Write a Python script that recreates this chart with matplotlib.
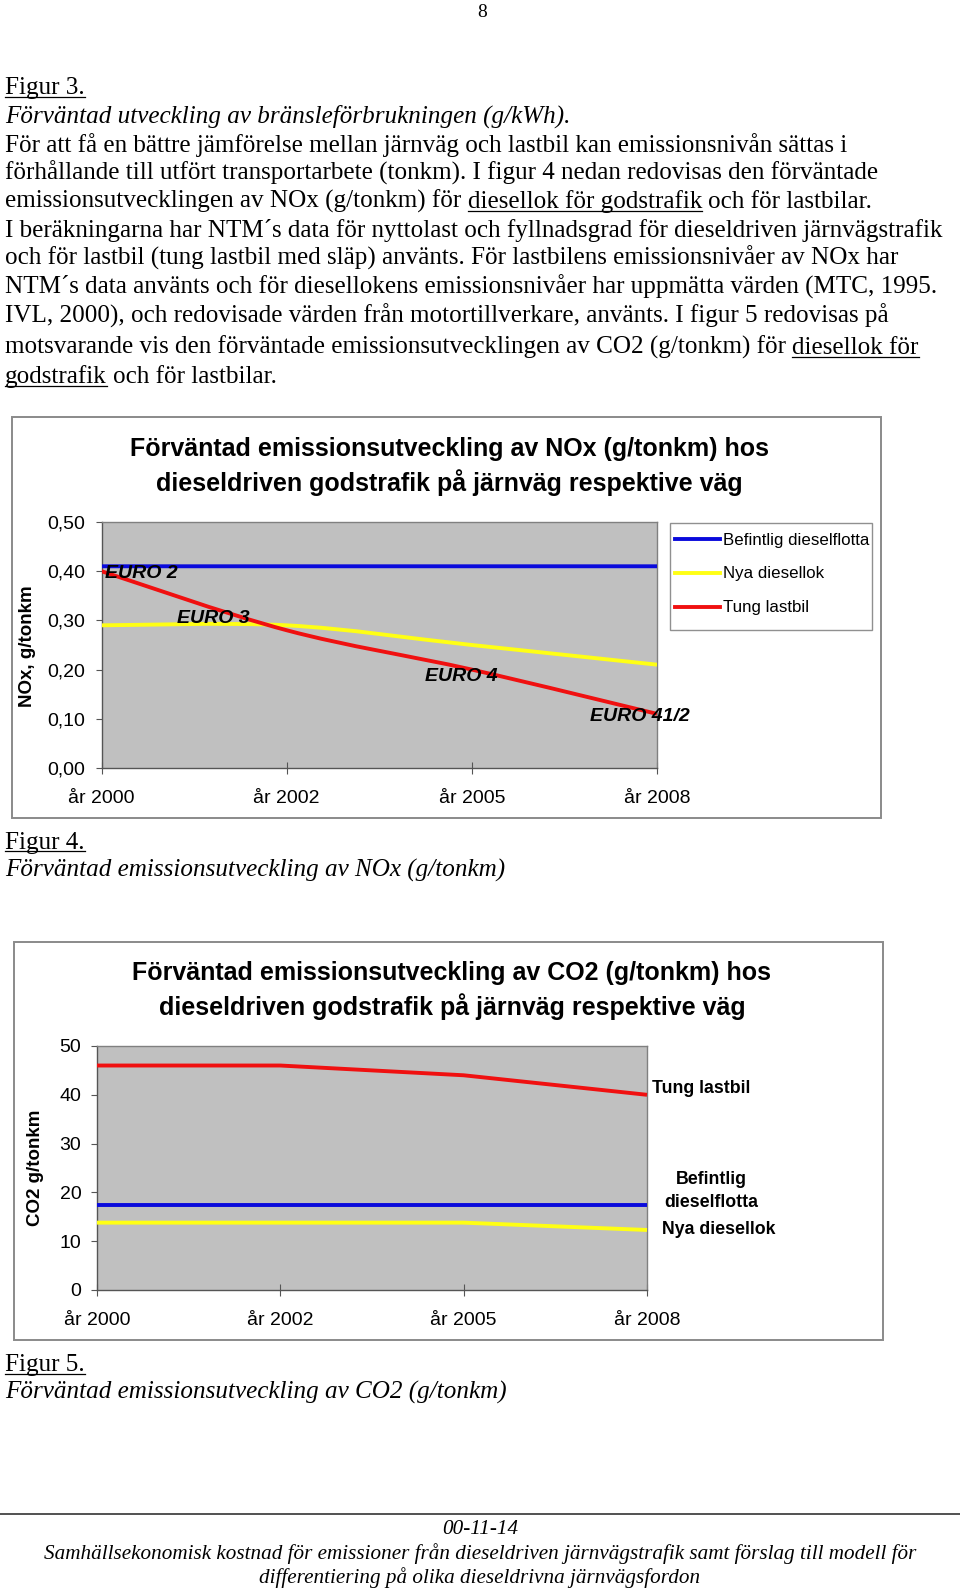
import matplotlib
matplotlib.use('Agg')
import matplotlib.pyplot as plt
from matplotlib.path import Path
from matplotlib.patches import PathPatch, Rectangle
from matplotlib.lines import Line2D

W, H, DPI = 960, 1589, 100

# ---------------- data ----------------
years = ['år 2000', 'år 2002', 'år 2005', 'år 2008']
series_names = ['Befintlig dieselflotta', 'Nya diesellok', 'Tung lastbil']

nox_befintlig = [0.41, 0.41, 0.41, 0.41]
nox_nya = [0.29, 0.29, 0.25, 0.21]
nox_tung = [0.40, 0.28, 0.20, 0.11]
nox_ticks = [0.0, 0.1, 0.2, 0.3, 0.4, 0.5]
nox_ticklabels = ['0,00', '0,10', '0,20', '0,30', '0,40', '0,50']
euro_labels = ['EURO 2', 'EURO 3', 'EURO 4', 'EURO 41/2']

co2_befintlig = [17.5, 17.5, 17.5, 17.5]
co2_nya = [13.8, 13.8, 13.8, 12.3]
co2_tung = [46, 46, 44, 40]
co2_ticks = [0, 10, 20, 30, 40, 50]
co2_ticklabels = ['0', '10', '20', '30', '40', '50']

colors = ['#0a0adc', '#ffff14', '#f01010']

SANS = 'Liberation Sans'
SERIF = 'Liberation Serif'

fig = plt.figure(figsize=(W / DPI, H / DPI), dpi=DPI)
fig.patch.set_facecolor('white')
renderer = fig.canvas.get_renderer()


def fx(px):
    return px / W


def fy(py):
    return 1 - py / H


def rect(l, t, r, b):
    return [fx(l), fy(b), (r - l) / W, (b - t) / H]


def smooth_path(xs, ys):
    n = len(xs)
    verts = [(xs[0], ys[0])]
    codes = [Path.MOVETO]
    for i in range(n - 1):
        i0, i3 = max(i - 1, 0), min(i + 2, n - 1)
        x0, y0 = xs[i0], ys[i0]
        x1, y1 = xs[i], ys[i]
        x2, y2 = xs[i + 1], ys[i + 1]
        x3, y3 = xs[i3], ys[i3]
        c1 = (x1 + (x2 - x0) / 6, y1 + (y2 - y0) / 6)
        c2 = (x2 - (x3 - x1) / 6, y2 - (y3 - y1) / 6)
        verts += [c1, c2, (x2, y2)]
        codes += [Path.CURVE4] * 3
    return Path(verts, codes)


def draw_smooth(ax, values, color):
    xs = list(range(len(values)))
    p = PathPatch(smooth_path(xs, values), facecolor='none', edgecolor=color,
                  lw=2.8, capstyle='butt', joinstyle='round', zorder=3)
    ax.add_patch(p)


def draw_straight(ax, values, color):
    ax.plot(range(len(values)), values, color=color, lw=2.8,
            solid_capstyle='butt', solid_joinstyle='round', zorder=3, clip_on=False)


def fig_box(l, t, r, b, edge, lw, z):
    fig.patches.append(Rectangle((fx(l), fy(b)), (r - l) / W, (b - t) / H,
                                 transform=fig.transFigure, facecolor='white',
                                 edgecolor=edge, lw=lw, zorder=z))


def setup_axes(box, ticks, ticklabels, ylim, ypad, xpad):
    ax = fig.add_axes(rect(*box))
    ax.set_zorder(2)
    ax.set_facecolor('#c0c0c0')
    ax.set_xlim(0, len(years) - 1)
    ax.set_ylim(*ylim)
    ax.set_xticks(range(len(years)))
    ax.set_xticklabels(years, fontsize=14, family=SANS)
    ax.set_yticks(ticks)
    ax.set_yticklabels(ticklabels, fontsize=14, family=SANS)
    for s in ax.spines.values():
        s.set_color('#808080')
        s.set_linewidth(1.0)
    ax.spines['left'].set_color('#555555')
    ax.spines['bottom'].set_color('#555555')
    ax.tick_params(axis='y', direction='out', length=4, width=0.8,
                   color='#555555', pad=ypad)
    ax.tick_params(axis='x', direction='inout', length=9, width=0.8,
                   color='#555555', pad=xpad)
    return ax


# ---------------- chart 1 (NOx) ----------------
fig_box(12, 417, 881, 818, '#8a8a8a', 1.4, -5)
ax1 = setup_axes((101.5, 522, 657, 768), nox_ticks, nox_ticklabels,
                 (0, 0.5), 7.5, 11)
for vals, c in zip([nox_befintlig, nox_nya, nox_tung], colors):
    draw_smooth(ax1, vals, c)

euro_pos = [(0.02, 0.396), (0.41, 0.303), (1.745, 0.185), (2.64, 0.104)]
for lab, (x, y) in zip(euro_labels, euro_pos):
    ax1.text(x, y, lab, fontsize=14, family=SANS, fontweight='bold',
             fontstyle='italic', ha='left', va='center', zorder=4, clip_on=False)

fig.text(fx(449), fy(449), 'Förväntad emissionsutveckling av NOx (g/tonkm) hos',
         fontsize=18, family=SANS, fontweight='bold', ha='center', va='center')
fig.text(fx(449), fy(483), 'dieseldriven godstrafik på järnväg respektive väg',
         fontsize=18, family=SANS, fontweight='bold', ha='center', va='center')
fig.text(fx(28), fy(646), 'NOx, g/tonkm', fontsize=13.5, family=SANS,
         fontweight='bold', rotation=90, ha='center', va='center')

# legend frame + legend entries
fig_box(670, 523, 872, 630, '#909090', 1.0, 4)
handles = [Line2D([], [], color=c, lw=2.8) for c in colors]
leg = fig.legend(handles, series_names, loc='upper left',
                 bbox_to_anchor=(fx(675), fy(532.5)), bbox_transform=fig.transFigure,
                 prop={'family': SANS, 'size': 12.2}, frameon=False,
                 borderaxespad=0, borderpad=0,
                 handlelength=2.66, handletextpad=0.18, labelspacing=1.12)
leg.set_zorder(6)

# ---------------- chart 2 (CO2) ----------------
fig_box(13.5, 942, 883, 1340, '#8a8a8a', 1.4, -5)
ax2 = setup_axes((97, 1046, 647, 1290), co2_ticks, co2_ticklabels,
                 (0, 50), 7.3, 11)
for vals, c in zip([co2_befintlig, co2_nya, co2_tung], colors):
    draw_straight(ax2, vals, c)

ax2.text(3.03, 41.2, series_names[2], fontsize=12.8, family=SANS,
         fontweight='bold', ha='left', va='center', clip_on=False)
ax2.text(3.35, 20.2, 'Befintlig\ndieselflotta', fontsize=12.8, family=SANS,
         fontweight='bold', ha='center', va='center', clip_on=False,
         linespacing=1.45)
ax2.text(3.08, 12.5, series_names[1], fontsize=12.8, family=SANS,
         fontweight='bold', ha='left', va='center', clip_on=False)

fig.text(fx(452), fy(973), 'Förväntad emissionsutveckling av CO2 (g/tonkm) hos',
         fontsize=18, family=SANS, fontweight='bold', ha='center', va='center')
fig.text(fx(452), fy(1007), 'dieseldriven godstrafik på järnväg respektive väg',
         fontsize=18, family=SANS, fontweight='bold', ha='center', va='center')
fig.text(fx(36), fy(1168), 'CO2 g/tonkm', fontsize=13.5, family=SANS,
         fontweight='bold', rotation=90, ha='center', va='center')

# ---------------- page text ----------------
BODY = 18.1


def text_width(s, size, style):
    t = fig.text(0, 0, s, fontsize=size, family=SERIF, fontstyle=style)
    w = t.get_window_extent(renderer=renderer).width
    t.remove()
    return w


def draw_runs(x, baseline, runs, size=BODY, style='normal'):
    sw = text_width('a a', size, style) - text_width('aa', size, style)
    cur = x
    for s, ul in runs:
        t = fig.text(fx(cur), fy(baseline), s, fontsize=size, family=SERIF,
                     fontstyle=style, ha='left', va='baseline')
        w = t.get_window_extent(renderer=renderer).width
        if ul:
            fig.add_artist(Line2D([fx(cur), fx(cur + w)],
                                  [fy(baseline + 2.5), fy(baseline + 2.5)],
                                  transform=fig.transFigure, color='black', lw=0.9))
        cur += w + sw


fig.text(fx(482), fy(17), '8', fontsize=14, family=SERIF, ha='center', va='baseline')

draw_runs(5, 94, [('Figur 3.', True)])
draw_runs(5, 123, [('Förväntad utveckling av bränsleförbrukningen (g/kWh).', False)],
          style='italic')
body_lines = [
    (152, [('För att få en bättre jämförelse mellan järnväg och lastbil kan emissionsnivån sättas i', False)]),
    (180, [('förhållande till utfört transportarbete (tonkm). I figur 4 nedan redovisas den förväntade', False)]),
    (208, [('emissionsutvecklingen av NOx (g/tonkm) för', False), ('diesellok för godstrafik', True),
           ('och för lastbilar.', False)]),
    (237, [('I beräkningarna har NTM´s data för nyttolast och fyllnadsgrad för dieseldriven järnvägstrafik', False)]),
    (265, [('och för lastbil (tung lastbil med släp) använts. För lastbilens emissionsnivåer av NOx har', False)]),
    (294, [('NTM´s data använts och för diesellokens emissionsnivåer har uppmätta värden (MTC, 1995.', False)]),
    (323, [('IVL, 2000), och redovisade värden från motortillverkare, använts. I figur 5 redovisas på', False)]),
    (354, [('motsvarande vis den förväntade emissionsutvecklingen av CO2 (g/tonkm) för', False),
           ('diesellok för', True)]),
    (383, [('godstrafik', True), ('och för lastbilar.', False)]),
]
for base, runs in body_lines:
    draw_runs(5, base, runs)

draw_runs(5, 849, [('Figur 4.', True)])
draw_runs(5, 877, [('Förväntad emissionsutveckling av NOx (g/tonkm)', False)], style='italic')
draw_runs(5, 1371, [('Figur 5.', True)])
draw_runs(5, 1399, [('Förväntad emissionsutveckling av CO2 (g/tonkm)', False)], style='italic')

# footer
fig.add_artist(Line2D([0, 1], [fy(1514), fy(1514)], transform=fig.transFigure,
                      color='#333333', lw=1.2))
footer_lines = [
    (1534, '00-11-14'),
    (1559, 'Samhällsekonomisk kostnad för emissioner från dieseldriven järnvägstrafik samt förslag till modell för'),
    (1583, 'differentiering på olika dieseldrivna järnvägsfordon'),
]
for base, s in footer_lines:
    fig.text(fx(480), fy(base), s, fontsize=15.2, family=SERIF, fontstyle='italic',
             ha='center', va='baseline')

fig.savefig('out.png', dpi=DPI, facecolor='white')
